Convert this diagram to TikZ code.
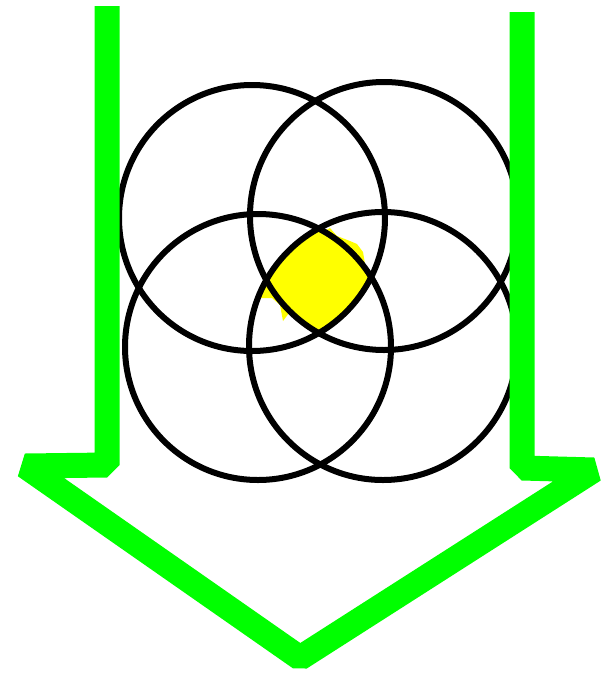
\documentclass[tikz,border=0pt]{standalone}
\usepackage{tikz}
\usetikzlibrary{calc}
\definecolor{ArrowGreen}{HTML}{00FF00}
\definecolor{CoreYellow}{HTML}{FFFF00}

\begin{document}
\begin{tikzpicture}[
    x=1pt, y=-1pt,
    ring/.style={draw=black, line width=6pt},
    outline/.style={draw=ArrowGreen, line width=25pt, line join=bevel},
    core/.style={fill=CoreYellow},
  ]
  \useasboundingbox (0,0) rectangle (609,681);
  % --- 円の中心 ---
  \coordinate (tl) at (252,218);
  \coordinate (tr) at (384,216);
  \coordinate (bl) at (258,347);
  \coordinate (br) at (383,346);
  % --- 四つの円の共通部分（黄）---
  \begin{scope}
    \clip (tl) circle (133pt);
    \clip (tr) circle (134pt);
    \clip (bl) circle (133pt);
    \fill[core] (br) circle (134pt);
  \end{scope}
  % はみ出し
  \fill[core] (322,232) -- (330,228) -- (337,236) -- (350,241) -- (357,244)
    -- (363,252) -- (366,270) -- (345,262) -- cycle;
  \fill[core] (268,283) -- (262,290) -- (261,298) -- (272,298) -- (280,305)
    -- (283,321) -- (292,309) -- (300,306) -- (308,318) -- (300,296) -- cycle;
  % --- 円 ---
  \foreach \c/\r in {tl/133, tr/134, bl/133, br/134}{
    \draw[ring] (\c) circle (\r pt);
  }
  % --- 緑の下向き矢印 ---
  \draw[outline] (107,6) -- (107,465) -- (25,466) -- (300,658)
    -- (594,470) -- (522,468) -- (522,12);
\end{tikzpicture}
\end{document}
